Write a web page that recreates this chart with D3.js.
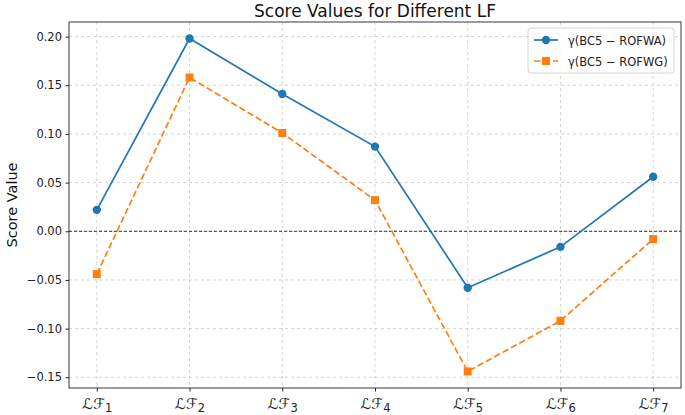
<!DOCTYPE html>
<html><head><meta charset="utf-8">
<script src="https://cdn.jsdelivr.net/npm/d3@7"></script>
<style>body{margin:0;background:#fff;}svg{display:block;font-family:"DejaVu Sans",sans-serif;}</style>
</head><body><svg id="c" width="685" height="415"></svg>
<script>
const categories = ["1","2","3","4","5","6","7"];
const seriesA = [0.022, 0.198, 0.141, 0.087, -0.058, -0.016, 0.056];
const seriesG = [-0.044, 0.158, 0.101, 0.032, -0.144, -0.092, -0.008];
const yTicks = [-0.15, -0.10, -0.05, 0.00, 0.05, 0.10, 0.15, 0.20];
const labelA = "γ(BC5 − ROFWA)";
const labelG = "γ(BC5 − ROFWG)";

const svg = d3.select("#c");
const L = 69, R = 681, T = 22, B = 388;
const x = d3.scaleLinear().domain([-0.3, 6.3]).range([L, R]);
const y = d3.scaleLinear().domain([-0.161, 0.215]).range([B, T]);

// grid
const g = svg.append("g");
g.selectAll(".gx").data(categories).enter().append("line")
  .attr("x1", (d,i)=>x(i)).attr("x2",(d,i)=>x(i)).attr("y1",T).attr("y2",B)
  .attr("stroke","#b0b0b0").attr("stroke-opacity",0.7).attr("stroke-width",0.8).attr("stroke-dasharray","3,3");
g.selectAll(".gy").data(yTicks).enter().append("line")
  .attr("x1", L).attr("x2",R).attr("y1",d=>y(d)).attr("y2",d=>y(d))
  .attr("stroke","#b0b0b0").attr("stroke-opacity",0.7).attr("stroke-width",0.8).attr("stroke-dasharray","3,3");
// zero line
svg.append("line").attr("x1",L).attr("x2",R).attr("y1",y(0)).attr("y2",y(0))
  .attr("stroke","#000").attr("stroke-width",0.8).attr("stroke-dasharray","3,2");

// axes
const yAxis = d3.axisLeft(y).tickValues(yTicks).tickSize(3.5).tickPadding(3.5)
  .tickFormat(d => d3.format(".2f")(d).replace("-", "−"));
const ya = svg.append("g").attr("transform",`translate(${L},0)`).call(yAxis);
ya.select(".domain").remove();
ya.selectAll("text").attr("font-size",11.5).attr("fill","#222").attr("font-family","DejaVu Sans");
ya.selectAll("line").attr("stroke","#222");

const xAxis = d3.axisBottom(x).tickValues(d3.range(categories.length)).tickSize(3.5).tickFormat("");
const xa = svg.append("g").attr("transform",`translate(0,${B})`).call(xAxis);
xa.select(".domain").remove();
xa.selectAll("line").attr("stroke","#222");
xa.selectAll(".tick").append("text").attr("y", 21).attr("text-anchor","middle")
  .attr("fill","#222").attr("font-family","DejaVu Sans").attr("font-size",15)
  .each(function(d,i){
    const t = d3.select(this);
    t.append("tspan").text("ℒℱ").attr("font-style","italic");
    t.append("tspan").text(categories[i]).attr("font-size",11.5).attr("dy",3);
  });

// frame
svg.append("rect").attr("x",L).attr("y",T).attr("width",R-L).attr("height",B-T)
  .attr("fill","none").attr("stroke","#222").attr("stroke-width",0.9);

// lines
const line = d3.line().x((d,i)=>x(i)).y(d=>y(d));
svg.append("path").datum(seriesA).attr("d",line).attr("fill","none").attr("stroke","#1f77b4").attr("stroke-width",1.7);
svg.append("path").datum(seriesG).attr("d",line).attr("fill","none").attr("stroke","#ff7f0e").attr("stroke-width",1.7).attr("stroke-dasharray","6.5,3");
svg.selectAll(".ma").data(seriesA).enter().append("circle")
  .attr("cx",(d,i)=>x(i)).attr("cy",d=>y(d)).attr("r",4.2).attr("fill","#1f77b4");
svg.selectAll(".mg").data(seriesG).enter().append("rect")
  .attr("x",(d,i)=>x(i)-4).attr("y",d=>y(d)-4).attr("width",8).attr("height",8).attr("fill","#ff7f0e");

// title and labels
svg.append("text").attr("x",(L+R)/2).attr("y",17).attr("text-anchor","middle")
  .attr("font-size",17).attr("fill","#111").text("Score Values for Different LF");
svg.append("text").attr("transform",`translate(17,${(T+B)/2}) rotate(-90)`).attr("text-anchor","middle")
  .attr("font-size",14.5).attr("fill","#111").text("Score Value");

// legend
const lg = svg.append("g").attr("transform","translate(528,28)");
lg.append("rect").attr("width",146).attr("height",45).attr("rx",3).attr("fill","#fff").attr("fill-opacity",0.85)
  .attr("stroke","#ccc").attr("stroke-width",0.8);
const items = [{label:labelA,c:"#1f77b4",sq:false,dash:null,yy:12},{label:labelG,c:"#ff7f0e",sq:true,dash:"6.5,3",yy:33}];
items.forEach(it=>{
  lg.append("line").attr("x1",6).attr("x2",30).attr("y1",it.yy).attr("y2",it.yy).attr("stroke",it.c).attr("stroke-width",1.7)
    .attr("stroke-dasharray",it.dash);
  if(it.sq) lg.append("rect").attr("x",14).attr("y",it.yy-4).attr("width",8).attr("height",8).attr("fill",it.c);
  else lg.append("circle").attr("cx",18).attr("cy",it.yy).attr("r",4.2).attr("fill",it.c);
  lg.append("text").attr("x",40).attr("y",it.yy+4.5).attr("font-size",11.5).attr("fill","#222").text(it.label);
});
</script></body></html>
